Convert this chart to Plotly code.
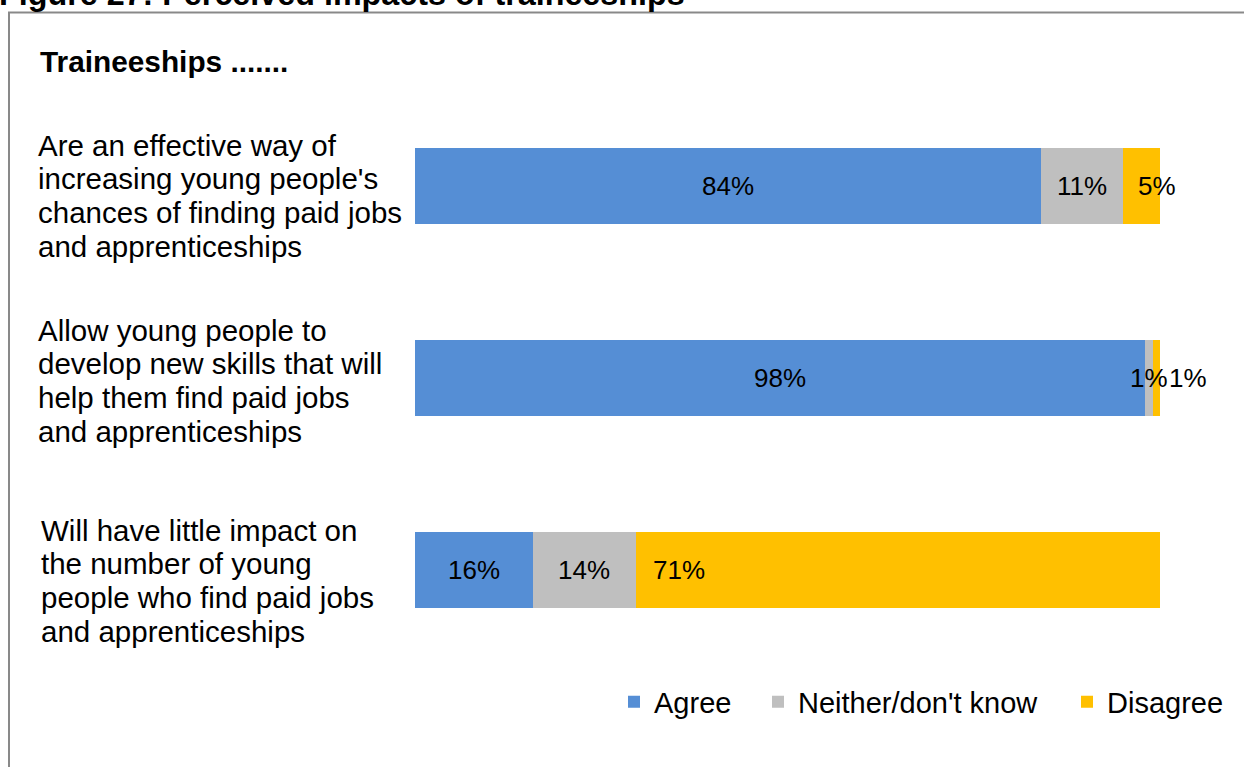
import plotly.graph_objects as go

# ---------------- data ----------------
category_lines = [
    ["Are an effective way of", "increasing young people's",
     "chances of finding paid jobs", "and apprenticeships"],
    ["Allow young people to", "develop new skills that will",
     "help them find paid jobs", "and apprenticeships"],
    ["Will have little impact on", "the number of young",
     "people who find paid jobs", "and apprenticeships"],
]
categories = [" ".join(lines) for lines in category_lines]

series_names = ["Agree", "Neither/don't know", "Disagree"]
agree = [84.0, 98.0, 15.8]
neither = [11.0, 1.0, 13.8]
disagree = [5.0, 1.0, 70.4]
agree_labels = ["84%", "98%", "16%"]
neither_labels = ["11%", "1%", "14%"]
disagree_labels = ["5%", "1%", "71%"]

colors = ["#558ED5", "#BFBFBF", "#FFC000"]

# ---------------- layout geometry (pixels) ----------------
W, H = 1244, 767
PL, PR = 415, 1160          # plot left/right
PT, PB = 90, 666            # plot top/bottom
FONT = "Liberation Sans, Arial, sans-serif"


def px_x(px):
    return (px - PL) / (PR - PL)


def px_y(py):
    return (PB - py) / (PB - PT)


series_values = [agree, neither, disagree]
series_labels = [agree_labels, neither_labels, disagree_labels]
legend_widths = [99, 264, 118]

fig = go.Figure()
for name, vals, col, lw in zip(series_names, series_values, colors, legend_widths):
    fig.add_trace(go.Bar(
        y=categories, x=vals, name=name, orientation="h",
        marker=dict(color=col, line=dict(width=0)),
        hoverinfo="skip", legendwidth=lw,
    ))

annotations = []

# data labels (placement: mode, pixel shift)
label_place = {
    (2, 0): ("center", 16),
    (2, 1): ("outside", 7),
    (2, 2): ("start", 15),
}
for ci, cat in enumerate(categories):
    start = 0.0
    for si in range(len(series_names)):
        v = series_values[si][ci]
        mode, shift = label_place.get((si, ci), ("center", 0))
        if mode == "center":
            x, anchor = start + v / 2, "center"
        elif mode == "outside":
            x, anchor = start + v, "left"
        else:
            x, anchor = start, "left"
        annotations.append(dict(
            x=x, y=cat, xref="x", yref="y", text=series_labels[si][ci],
            showarrow=False, xanchor=anchor, yanchor="middle", xshift=shift,
            font=dict(family=FONT, size=26, color="#000000"),
        ))
        start += v

# category labels, one annotation per line
label_x = [36, 36, 39]
label_offsets = [-41, -48, -40]
line_step = 33.7
for ci, lines in enumerate(category_lines):
    for li, line in enumerate(lines):
        annotations.append(dict(
            x=px_x(label_x[ci]), y=categories[ci], xref="paper", yref="y",
            text=line, showarrow=False, xanchor="left", yanchor="middle",
            yshift=-(label_offsets[ci] + li * line_step),
            font=dict(family=FONT, size=29.5, color="#000000"),
        ))

# chart heading inside the box
annotations.append(dict(
    x=px_x(38), y=px_y(62), xref="paper", yref="paper",
    text="<b>Traineeships .......</b>", showarrow=False,
    xanchor="left", yanchor="middle",
    font=dict(family=FONT, size=29.8, color="#000000"),
))
# figure caption, clipped at the top of the page
annotations.append(dict(
    x=px_x(-3), y=px_y(-5.5), xref="paper", yref="paper",
    text="<b>Figure 27: Perceived impacts of traineeships</b>", showarrow=False,
    xanchor="left", yanchor="middle",
    font=dict(family=FONT, size=32.3, color="#000000"),
))

fig.update_layout(
    width=W, height=H,
    margin=dict(l=PL, r=W - PR, t=PT, b=H - PB, pad=0, autoexpand=False),
    barmode="stack", bargap=0.6,
    paper_bgcolor="white", plot_bgcolor="white",
    font=dict(family=FONT, size=29, color="#000000"),
    xaxis=dict(range=[0, 100], visible=False, fixedrange=True),
    yaxis=dict(categoryorder="array", categoryarray=categories,
               autorange="reversed", showticklabels=False, showgrid=False,
               zeroline=False, showline=False, ticks="", fixedrange=True),
    showlegend=True,
    legend=dict(orientation="h", x=px_x(614), xanchor="left",
                y=px_y(702), yanchor="middle", traceorder="normal",
                font=dict(family=FONT, size=29, color="#000000"),
                bgcolor="rgba(0,0,0,0)"),
    annotations=annotations,
    shapes=[dict(type="rect", xref="paper", yref="paper",
                 x0=px_x(9), x1=px_x(1262), y0=px_y(12.5), y1=px_y(790),
                 line=dict(color="#898989", width=2),
                 fillcolor="rgba(0,0,0,0)", layer="below")],
    hovermode=False,
)

fig.write_html(
    "out.html",
    config={"displayModeBar": False},
    post_script="document.body.style.margin='0';document.body.style.overflow='hidden';",
)
